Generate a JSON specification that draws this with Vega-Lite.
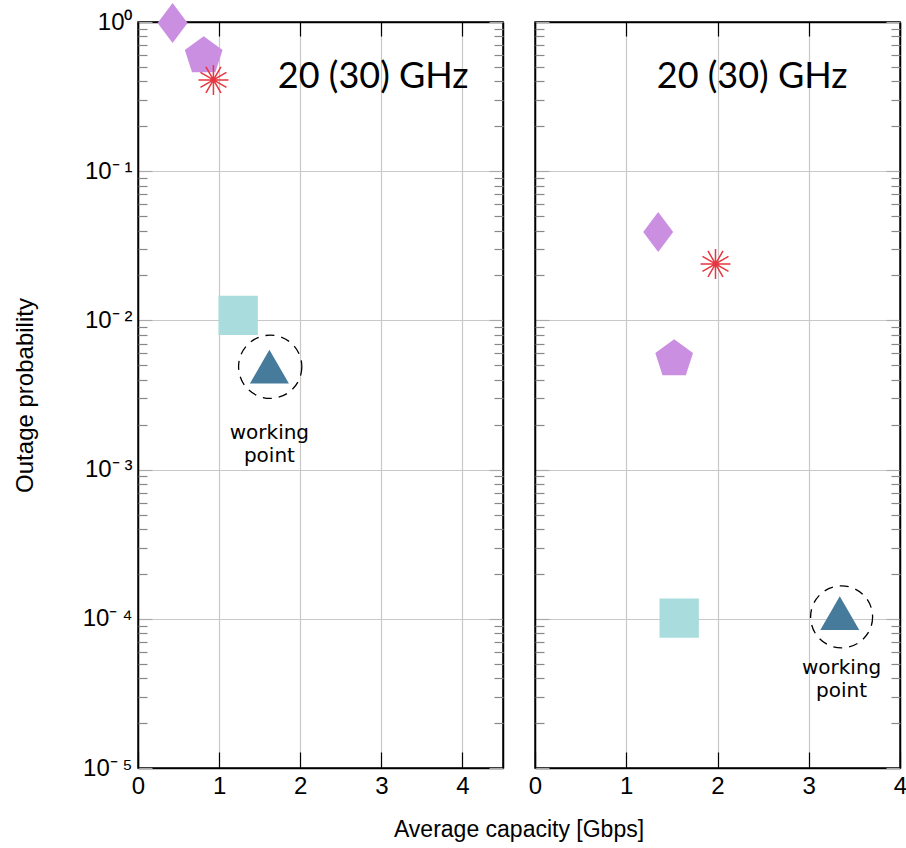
{
  "$schema": "https://vega.github.io/schema/vega-lite/v6.json",
  "padding": {"left": 12, "top": 2, "right": 0, "bottom": 5},
  "background": "white",
  "config": {
    "view": {"stroke": "black", "strokeWidth": 1.5},
    "font": "Liberation Sans",
    "axis": {
      "labelFont": "Liberation Sans",
      "labelFontSize": 24,
      "labelColor": "black",
      "labelFlush": false,
      "titleFont": "Liberation Sans",
      "titleFontSize": 23,
      "titleFontWeight": "normal",
      "titleColor": "black",
      "domainColor": "black",
      "domainWidth": 1.5,
      "gridColor": "#c8c8c8",
      "gridWidth": 1.2,
      "gridOpacity": 1
    }
  },
  "title": {"text": "Average capacity [Gbps]", "orient": "bottom", "anchor": "middle", "frame": "group", "dx": 381, "offset": 20, "fontSize": 23, "font": "Liberation Sans", "fontWeight": "normal", "color": "black"},
  "datasets": {
    "pts": [
      {"panel": "L", "shape": "diamond", "cap": 0.426, "prob": 0.985},
      {"panel": "L", "shape": "pentagon", "cap": 0.81, "prob": 0.59},
      {"panel": "L", "shape": "square", "cap": 1.235, "prob": 0.0108},
      {"panel": "L", "shape": "triangle", "cap": 1.62, "prob": 0.0049},
      {"panel": "L", "shape": "asterisk", "cap": 0.93, "prob": 0.409},
      {"panel": "R", "shape": "diamond", "cap": 1.35, "prob": 0.0392},
      {"panel": "R", "shape": "pentagon", "cap": 1.525, "prob": 0.0055},
      {"panel": "R", "shape": "square", "cap": 1.58, "prob": 0.000101},
      {"panel": "R", "shape": "triangle", "cap": 3.34, "prob": 0.000109},
      {"panel": "R", "shape": "asterisk", "cap": 1.978, "prob": 0.0239}
    ],
    "circles": [
      {"panel": "L", "cap": 1.63, "prob": 0.00489},
      {"panel": "R", "cap": 3.36, "prob": 0.000103}
    ],
    "notes": [
      {"panel": "L", "cap": 1.62, "prob": 0.00204, "label": "working\npoint"},
      {"panel": "R", "cap": 3.36, "prob": 0.000055, "label": "working\npoint"}
    ],
    "heads": [
      {"panel": "L", "cap": 2.9, "prob": 0.428, "label": "20 (30) GHz"},
      {"panel": "R", "cap": 2.38, "prob": 0.428, "label": "20 (30) GHz"}
    ]
  },
  "spacing": 22,
  "hconcat": [
    {
      "width": 365,
      "height": 746,
      "resolve": {"axis": {"x": "independent", "y": "independent"}},
      "layer": [
        {
          "data": {"name": "pts"},
          "transform": [{"filter": "datum.panel == 'L' && datum.shape != 'asterisk'"}],
          "mark": {"type": "point", "filled": true, "opacity": 1, "strokeWidth": 0},
          "encoding": {
            "x": {"field": "cap", "type": "quantitative", "scale": {"domain": [0, 4.5], "nice": false, "zero": false},
              "axis": {"orient": "bottom", "values": [0, 1, 2, 3, 4], "grid": true, "tickSize": -16, "tickColor": "black", "tickWidth": 1.2, "labelPadding": 22, "title": null}},
            "y": {"field": "prob", "type": "quantitative", "scale": {"type": "log", "domain": [0.00001, 1], "nice": false},
              "axis": {"orient": "left", "values": [1, 0.1, 0.01, 0.001, 0.0001, 0.00001], "grid": true, "tickSize": -14, "tickColor": "#aaaaaa", "tickWidth": 1.2, "labelPadding": 20,
                "labelExpr": "datum.value > 0.5 ? '10⁰' : datum.value > 0.05 ? '10⁻\u2009¹' : datum.value > 0.005 ? '10⁻\u2009²' : datum.value > 0.0005 ? '10⁻\u2009³' : datum.value > 0.00005 ? '10⁻\u2009⁴' : '10⁻\u2009⁵'",
                "title": "Outage probability", "titlePadding": 45, "titleFontSize": 24}},
            "shape": {"field": "shape", "type": "nominal", "legend": null,
              "scale": {"domain": ["diamond", "pentagon", "square", "triangle"],
                "range": ["M0,-1L0.75,0L0,1L-0.75,0Z", "M0,-1L0.951,-0.309L0.588,0.809L-0.588,0.809L-0.951,-0.309Z", "M-1,-1L1,-1L1,1L-1,1Z", "M0,-0.866L1,0.866L-1,0.866Z"]}},
            "color": {"field": "shape", "type": "nominal", "legend": null,
              "scale": {"domain": ["diamond", "pentagon", "square", "triangle"], "range": ["#cb8fe2", "#cb8fe2", "#a9dcdc", "#467b9c"]}},
            "size": {"field": "shape", "type": "nominal", "legend": null,
              "scale": {"domain": ["diamond", "pentagon", "square", "triangle"], "range": [1600, 1521, 1444, 1225]}}
          }
        },
        {
          "data": {"name": "pts"},
          "transform": [{"filter": "datum.panel == 'L' && datum.shape == 'asterisk'"}],
          "mark": {"type": "point", "filled": false, "stroke": "#e8353f", "strokeWidth": 1.5, "opacity": 1, "size": 900,
            "shape": "M-1,0L1,0M-0.866,-0.5L0.866,0.5M-0.5,-0.866L0.5,0.866M0,-1L0,1M0.5,-0.866L-0.5,0.866M0.866,-0.5L-0.866,0.5"},
          "encoding": {
            "x": {"field": "cap", "type": "quantitative", "scale": {"domain": [0, 4.5], "nice": false, "zero": false},
              "axis": {"orient": "top", "values": [0, 1, 2, 3, 4], "grid": false, "tickSize": -14, "tickColor": "black", "tickWidth": 1.2, "labels": false, "title": null}},
            "y": {"field": "prob", "type": "quantitative", "scale": {"type": "log", "domain": [0.00001, 1], "nice": false},
              "axis": {"orient": "left", "values": [0.00002, 0.00003, 0.00004, 0.00005, 0.00006, 0.00007, 0.00008, 0.00009, 0.0002, 0.0003, 0.0004, 0.0005, 0.0006, 0.0007, 0.0008, 0.0009, 0.002, 0.003, 0.004, 0.005, 0.006, 0.007, 0.008, 0.009, 0.02, 0.03, 0.04, 0.05, 0.06, 0.07, 0.08, 0.09, 0.2, 0.3, 0.4, 0.5, 0.6, 0.7, 0.8, 0.9],
                "grid": false, "tickSize": -9, "tickColor": "#888888", "tickWidth": 1.2, "labels": false, "domain": false, "title": null}}
          }
        },
        {
          "data": {"name": "circles"},
          "transform": [{"filter": "datum.panel == 'L'"}],
          "mark": {"type": "point", "shape": "circle", "filled": false, "stroke": "black", "strokeWidth": 1.3, "strokeDash": [9, 7], "size": 4000, "opacity": 1},
          "encoding": {
            "x": {"field": "cap", "type": "quantitative", "scale": {"domain": [0, 4.5], "nice": false, "zero": false}, "axis": null},
            "y": {"field": "prob", "type": "quantitative", "scale": {"type": "log", "domain": [0.00001, 1], "nice": false},
              "axis": {"orient": "right", "values": [1, 0.1, 0.01, 0.001, 0.0001, 0.00001], "grid": false, "tickSize": -14, "tickColor": "#aaaaaa", "tickWidth": 1.2, "labels": false, "title": null}}
          }
        },
        {
          "data": {"name": "notes"},
          "transform": [{"filter": "datum.panel == 'L'"}],
          "mark": {"type": "text", "font": "DejaVu Sans", "fontSize": 20, "align": "center", "baseline": "top", "lineBreak": "\n", "lineHeight": 23, "color": "black"},
          "encoding": {
            "x": {"field": "cap", "type": "quantitative", "scale": {"domain": [0, 4.5], "nice": false, "zero": false}, "axis": null},
            "y": {"field": "prob", "type": "quantitative", "scale": {"type": "log", "domain": [0.00001, 1], "nice": false},
              "axis": {"orient": "right", "values": [0.00002, 0.00003, 0.00004, 0.00005, 0.00006, 0.00007, 0.00008, 0.00009, 0.0002, 0.0003, 0.0004, 0.0005, 0.0006, 0.0007, 0.0008, 0.0009, 0.002, 0.003, 0.004, 0.005, 0.006, 0.007, 0.008, 0.009, 0.02, 0.03, 0.04, 0.05, 0.06, 0.07, 0.08, 0.09, 0.2, 0.3, 0.4, 0.5, 0.6, 0.7, 0.8, 0.9],
                "grid": false, "tickSize": -9, "tickColor": "#888888", "tickWidth": 1.2, "labels": false, "domain": false, "title": null}},
            "text": {"field": "label", "type": "nominal"}
          }
        },
        {
          "data": {"name": "heads"},
          "transform": [{"filter": "datum.panel == 'L'"}],
          "mark": {"type": "text", "font": "Lato", "fontSize": 36, "align": "center", "baseline": "middle", "color": "black"},
          "encoding": {
            "x": {"field": "cap", "type": "quantitative", "scale": {"domain": [0, 4.5], "nice": false, "zero": false}, "axis": null},
            "y": {"field": "prob", "type": "quantitative", "scale": {"type": "log", "domain": [0.00001, 1], "nice": false}, "axis": null},
            "text": {"field": "label", "type": "nominal"}
          }
        }
      ]
    },
    {
      "width": 365,
      "height": 746,
      "resolve": {"axis": {"x": "independent", "y": "independent"}},
      "layer": [
        {
          "data": {"name": "pts"},
          "transform": [{"filter": "datum.panel == 'R' && datum.shape != 'asterisk'"}],
          "mark": {"type": "point", "filled": true, "opacity": 1, "strokeWidth": 0},
          "encoding": {
            "x": {"field": "cap", "type": "quantitative", "scale": {"domain": [0, 4], "nice": false, "zero": false},
              "axis": {"orient": "bottom", "values": [0, 1, 2, 3, 4], "grid": true, "tickSize": -16, "tickColor": "black", "tickWidth": 1.2, "labelPadding": 22, "title": null}},
            "y": {"field": "prob", "type": "quantitative", "scale": {"type": "log", "domain": [0.00001, 1], "nice": false},
              "axis": {"orient": "left", "values": [1, 0.1, 0.01, 0.001, 0.0001, 0.00001], "grid": true, "tickSize": -14, "tickColor": "#aaaaaa", "tickWidth": 1.2, "labels": false, "title": null}},
            "shape": {"field": "shape", "type": "nominal", "legend": null,
              "scale": {"domain": ["diamond", "pentagon", "square", "triangle"],
                "range": ["M0,-1L0.75,0L0,1L-0.75,0Z", "M0,-1L0.951,-0.309L0.588,0.809L-0.588,0.809L-0.951,-0.309Z", "M-1,-1L1,-1L1,1L-1,1Z", "M0,-0.866L1,0.866L-1,0.866Z"]}},
            "color": {"field": "shape", "type": "nominal", "legend": null,
              "scale": {"domain": ["diamond", "pentagon", "square", "triangle"], "range": ["#cb8fe2", "#cb8fe2", "#a9dcdc", "#467b9c"]}},
            "size": {"field": "shape", "type": "nominal", "legend": null,
              "scale": {"domain": ["diamond", "pentagon", "square", "triangle"], "range": [1600, 1521, 1600, 1225]}}
          }
        },
        {
          "data": {"name": "pts"},
          "transform": [{"filter": "datum.panel == 'R' && datum.shape == 'asterisk'"}],
          "mark": {"type": "point", "filled": false, "stroke": "#e8353f", "strokeWidth": 1.5, "opacity": 1, "size": 900,
            "shape": "M-1,0L1,0M-0.866,-0.5L0.866,0.5M-0.5,-0.866L0.5,0.866M0,-1L0,1M0.5,-0.866L-0.5,0.866M0.866,-0.5L-0.866,0.5"},
          "encoding": {
            "x": {"field": "cap", "type": "quantitative", "scale": {"domain": [0, 4], "nice": false, "zero": false},
              "axis": {"orient": "top", "values": [0, 1, 2, 3, 4], "grid": false, "tickSize": -14, "tickColor": "black", "tickWidth": 1.2, "labels": false, "title": null}},
            "y": {"field": "prob", "type": "quantitative", "scale": {"type": "log", "domain": [0.00001, 1], "nice": false},
              "axis": {"orient": "left", "values": [0.00002, 0.00003, 0.00004, 0.00005, 0.00006, 0.00007, 0.00008, 0.00009, 0.0002, 0.0003, 0.0004, 0.0005, 0.0006, 0.0007, 0.0008, 0.0009, 0.002, 0.003, 0.004, 0.005, 0.006, 0.007, 0.008, 0.009, 0.02, 0.03, 0.04, 0.05, 0.06, 0.07, 0.08, 0.09, 0.2, 0.3, 0.4, 0.5, 0.6, 0.7, 0.8, 0.9],
                "grid": false, "tickSize": -9, "tickColor": "#888888", "tickWidth": 1.2, "labels": false, "domain": false, "title": null}}
          }
        },
        {
          "data": {"name": "circles"},
          "transform": [{"filter": "datum.panel == 'R'"}],
          "mark": {"type": "point", "shape": "circle", "filled": false, "stroke": "black", "strokeWidth": 1.3, "strokeDash": [9, 7], "size": 3844, "opacity": 1},
          "encoding": {
            "x": {"field": "cap", "type": "quantitative", "scale": {"domain": [0, 4], "nice": false, "zero": false}, "axis": null},
            "y": {"field": "prob", "type": "quantitative", "scale": {"type": "log", "domain": [0.00001, 1], "nice": false},
              "axis": {"orient": "right", "values": [1, 0.1, 0.01, 0.001, 0.0001, 0.00001], "grid": false, "tickSize": -14, "tickColor": "#aaaaaa", "tickWidth": 1.2, "labels": false, "title": null}}
          }
        },
        {
          "data": {"name": "notes"},
          "transform": [{"filter": "datum.panel == 'R'"}],
          "mark": {"type": "text", "font": "DejaVu Sans", "fontSize": 20, "align": "center", "baseline": "top", "lineBreak": "\n", "lineHeight": 23, "color": "black"},
          "encoding": {
            "x": {"field": "cap", "type": "quantitative", "scale": {"domain": [0, 4], "nice": false, "zero": false}, "axis": null},
            "y": {"field": "prob", "type": "quantitative", "scale": {"type": "log", "domain": [0.00001, 1], "nice": false},
              "axis": {"orient": "right", "values": [0.00002, 0.00003, 0.00004, 0.00005, 0.00006, 0.00007, 0.00008, 0.00009, 0.0002, 0.0003, 0.0004, 0.0005, 0.0006, 0.0007, 0.0008, 0.0009, 0.002, 0.003, 0.004, 0.005, 0.006, 0.007, 0.008, 0.009, 0.02, 0.03, 0.04, 0.05, 0.06, 0.07, 0.08, 0.09, 0.2, 0.3, 0.4, 0.5, 0.6, 0.7, 0.8, 0.9],
                "grid": false, "tickSize": -9, "tickColor": "#888888", "tickWidth": 1.2, "labels": false, "domain": false, "title": null}},
            "text": {"field": "label", "type": "nominal"}
          }
        },
        {
          "data": {"name": "heads"},
          "transform": [{"filter": "datum.panel == 'R'"}],
          "mark": {"type": "text", "font": "Lato", "fontSize": 36, "align": "center", "baseline": "middle", "color": "black"},
          "encoding": {
            "x": {"field": "cap", "type": "quantitative", "scale": {"domain": [0, 4], "nice": false, "zero": false}, "axis": null},
            "y": {"field": "prob", "type": "quantitative", "scale": {"type": "log", "domain": [0.00001, 1], "nice": false}, "axis": null},
            "text": {"field": "label", "type": "nominal"}
          }
        }
      ]
    }
  ]
}
